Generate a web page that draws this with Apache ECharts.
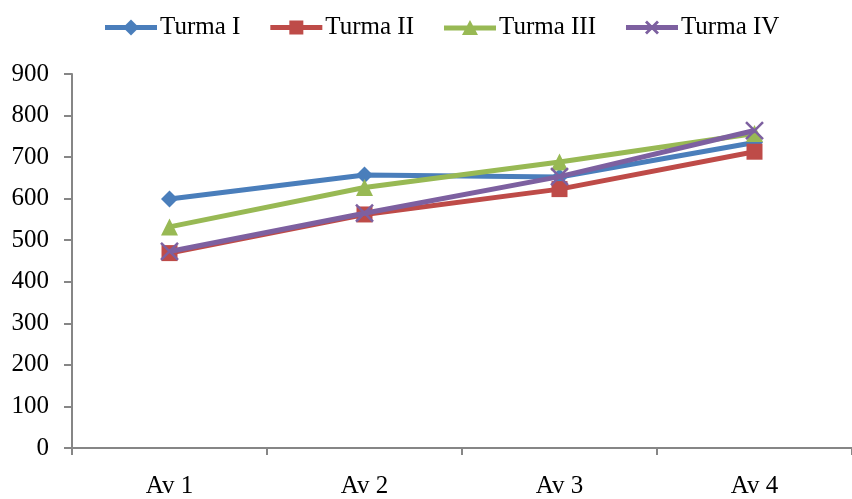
<!DOCTYPE html>
<html><head><meta charset="utf-8">
<script src="https://cdn.jsdelivr.net/npm/echarts@6/dist/echarts.min.js"></script>
<style>html,body{margin:0;padding:0;background:#fff}#c{width:852px;height:499px}</style>
</head><body><div id="c"></div>
<script>
const categories = ['Av 1', 'Av 2', 'Av 3', 'Av 4'];
const turmaI = [599, 657, 652, 735];
const turmaII = [469, 562, 623, 713];
const turmaIII = [532, 627, 688, 757];
const turmaIV = [473, 565, 653, 764];
const seriesNames = ['Turma I', 'Turma II', 'Turma III', 'Turma IV'];
const yTicks = {min: 0, max: 900, interval: 100};

const font = 'Liberation Serif, Times New Roman, serif';
const colors = ['#4A7EBB', '#BE4B48', '#98B954', '#7D60A0'];
const symbols = ['diamond', 'rect', 'triangle', 'path://M0,0 L10,10 M10,0 L0,10'];
const sizes = [17, 16, 17, 17];
const data = [turmaI, turmaII, turmaIII, turmaIV];
const lineBar = 'M0,5.5 L52,5.5 L52,10.5 L0,10.5 Z ';
const legendIcons = [
  'path://' + lineBar + 'M26,0 L34,8 L26,16 L18,8 Z',
  'path://' + lineBar + 'M19,1 L33,1 L33,15 L19,15 Z',
  'path://' + lineBar + 'M26,0 L34,15 L18,15 Z',
  'path://' + lineBar + 'M19,3 L21,1 L33,13 L31,15 Z M31,1 L33,3 L21,15 L19,13 Z'
];

const chart = echarts.init(document.getElementById('c'), null, {renderer: 'canvas'});
chart.setOption({
  animation: false,
  color: colors,
  textStyle: {fontFamily: font},
  legend: {
    top: 10, left: 100,
    itemWidth: 52, itemHeight: 16, itemGap: 30,
    textStyle: {fontFamily: font, fontSize: 25, color: '#000', padding: [0,0,0,-2]},
    data: seriesNames.map((n, i) => ({name: n, icon: legendIcons[i], itemStyle: {color: colors[i], borderWidth: 0}}))
  },
  grid: {left: 72, top: 74, width: 788, height: 377, containLabel: false},
  xAxis: {
    type: 'category', data: categories, boundaryGap: true,
    axisLine: {lineStyle: {color: '#868686', width: 2}},
    axisTick: {show: true, length: 7, lineStyle: {color: '#868686', width: 2}},
    axisLabel: {color: '#000', fontSize: 25, fontFamily: font, margin: 26},
    splitLine: {show: false}
  },
  yAxis: {
    type: 'value', min: yTicks.min, max: yTicks.max, interval: yTicks.interval,
    axisLine: {show: true, lineStyle: {color: '#868686', width: 2}},
    axisTick: {show: true, inside: false, length: 8, lineStyle: {color: '#868686', width: 2}},
    axisLabel: {color: '#000', fontSize: 25, fontFamily: font, margin: 23},
    splitLine: {show: false}
  },
  series: seriesNames.map((n, i) => ({
    name: n, type: 'line', data: data[i],
    symbol: symbols[i], symbolSize: sizes[i],
    lineStyle: {width: 5, color: colors[i]},
    itemStyle: i === 3 ? {color: 'none', borderColor: colors[i], borderWidth: 2.5} : {color: colors[i], borderWidth: 0},
    z: 2 + i
  }))
});
</script></body></html>
